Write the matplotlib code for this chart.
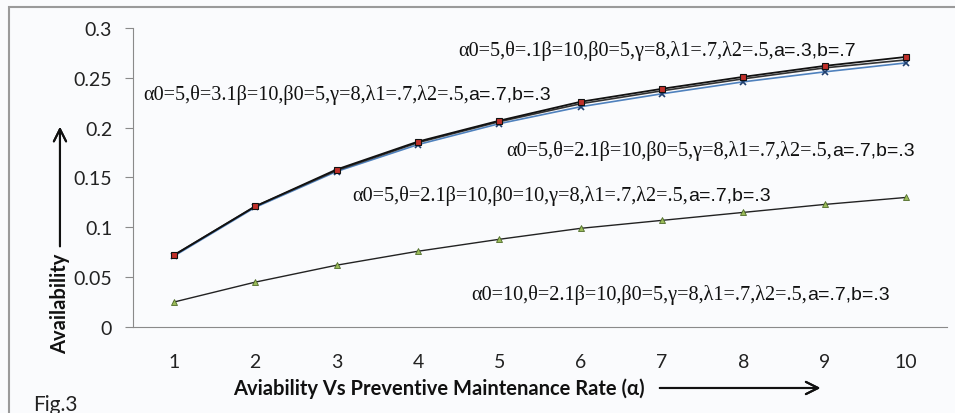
import matplotlib
matplotlib.use("Agg")
import matplotlib.pyplot as plt
from matplotlib.patches import Rectangle

# Données
alpha = [1, 2, 3, 4, 5, 6, 7, 8, 9, 10]
avail_theta01 = [0.072, 0.121, 0.158, 0.186, 0.207, 0.226, 0.239, 0.251, 0.262, 0.271]
avail_theta31 = [0.072, 0.121, 0.157, 0.185, 0.206, 0.224, 0.237, 0.249, 0.260, 0.268]
avail_theta21 = [0.071, 0.120, 0.156, 0.183, 0.204, 0.221, 0.234, 0.246, 0.256, 0.265]
avail_beta10 = [0.025, 0.045, 0.062, 0.076, 0.088, 0.099, 0.107, 0.115, 0.123, 0.130]

labels_serif = [
    "α0=5,θ=.1β=10,β0=5,γ=8,λ1=.7,λ2=.5,",
    "α0=5,θ=3.1β=10,β0=5,γ=8,λ1=.7,λ2=.5,",
    "α0=5,θ=2.1β=10,β0=5,γ=8,λ1=.7,λ2=.5,",
    "α0=5,θ=2.1β=10,β0=10,γ=8,λ1=.7,λ2=.5,",
    "α0=10,θ=2.1β=10,β0=5,γ=8,λ1=.7,λ2=.5,",
]
labels_sans = ["a=.3,b=.7", "a=.7,b=.3", "a=.7,b=.3", "a=.7,b=.3", "a=.7,b=.3"]
label_pos = [(4.49, 0.278), (0.62, 0.234), (5.09, 0.178), (3.19, 0.132), (4.66, 0.033)]

bg = "#fafbfd"
fig = plt.figure(figsize=(9.55, 4.14), dpi=100, facecolor=bg)
ax = fig.add_axes([0.1393, 0.2077, 0.8523, 0.7223], facecolor=bg)

ax.plot(alpha, avail_theta21, color="#4f81bd", lw=1.2, marker="x", ms=5,
        mec="#1f3f6f", mew=1.2, zorder=3)
ax.plot(alpha, avail_theta31, color="#333333", lw=1.2, zorder=3)
ax.plot(alpha, avail_theta01, color="#111111", lw=1.3, marker="s", ms=5,
        mfc="#c0302a", mec="#111111", mew=0.8, zorder=4)
ax.plot(alpha, avail_beta10, color="#222222", lw=1.0, marker="^", ms=5,
        mfc="#9bbb59", mec="#4e6b2a", mew=0.6, zorder=3)

ax.set_xlim(0.5, 10.5)
ax.set_ylim(0, 0.3)
ax.set_xticks(alpha)
ax.set_yticks([0, 0.05, 0.1, 0.15, 0.2, 0.25, 0.3])
ax.set_yticklabels(["0", "0.05", "0.1", "0.15", "0.2", "0.25", "0.3"])
for s in ["top", "right"]:
    ax.spines[s].set_visible(False)
for s in ["left", "bottom"]:
    ax.spines[s].set_color("#8a8a8a")
ax.tick_params(axis="x", length=0, pad=19, labelsize=14, labelcolor="#222222")
ax.tick_params(axis="y", length=6, color="#8a8a8a", pad=9, labelsize=14,
               labelcolor="#222222")
for lab in ax.get_xticklabels() + ax.get_yticklabels():
    lab.set_fontfamily("Lato")

# Annotations (partie serif + partie sans)
for (x, y), s1, s2 in zip(label_pos, labels_serif, labels_sans):
    t = ax.text(x, y, s1, fontsize=14.6, family="Liberation Serif", va="center",
                ha="left", color="#111111")
    ax.annotate(s2, xy=(1, 0.5), xycoords=t, va="center", ha="left",
                fontsize=14, family="Liberation Sans", color="#111111")

# Titres des axes et flèches
fig.text(0.0628, 0.266, "Availability", rotation=90, ha="center", va="center",
         fontsize=14.5, fontweight="bold", family="Lato", color="#111111")
fig.text(0.4597, 0.0604, "Aviability Vs Preventive Maintenance Rate (α)", ha="center",
         va="center", fontsize=14.5, fontweight="bold", family="Lato", color="#111111")
fig.text(0.0346, 0.0217, "Fig.3", ha="left", va="center", fontsize=15,
         family="Lato", color="#222222")
fig.add_artist(plt.annotate("", xy=(0.0628, 0.698), xytext=(0.0628, 0.396),
                            xycoords="figure fraction", textcoords="figure fraction",
                            arrowprops=dict(arrowstyle="->", lw=1.5, color="#111111",
                                            mutation_scale=22)))
fig.add_artist(plt.annotate("", xy=(0.862, 0.0604), xytext=(0.688, 0.0604),
                            xycoords="figure fraction", textcoords="figure fraction",
                            arrowprops=dict(arrowstyle="->", lw=1.5, color="#111111",
                                            mutation_scale=22)))

# Cadre extérieur
fig.patches.append(Rectangle((9 / 955, -0.05), 1.0, 0.981 + 0.05, transform=fig.transFigure,
                             fill=False, edgecolor="#9a9a9a", lw=1.5))

fig.savefig("out.png", dpi=100, facecolor=bg)
